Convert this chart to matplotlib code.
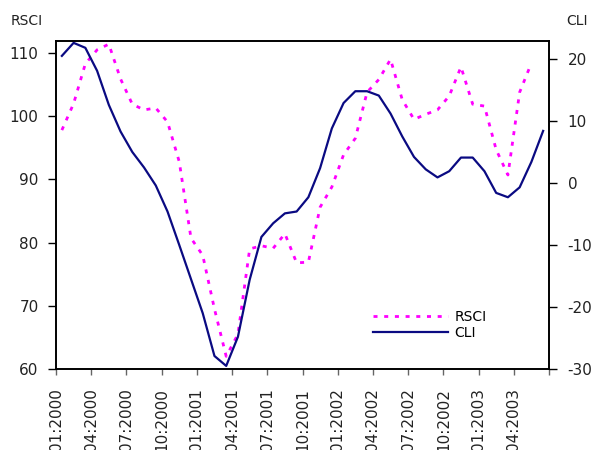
import numpy as np
import matplotlib
matplotlib.use("Agg")
import matplotlib.pyplot as plt
from matplotlib.lines import Line2D

plt.rcParams['font.family'] = ['DejaVu Sans']
plt.rcParams['axes.unicode_minus'] = False

# monthly data, Jan 2000 .. Jun 2003
rsci = [97.8, 102.0, 108.3, 110.5, 111.4, 105.9, 101.9, 101.0, 101.3, 99.1,
        92.8, 80.7, 78.0, 69.5, 62.0, 65.5, 79.0, 79.5, 79.1, 81.4,
        76.8, 76.9, 85.6, 88.8, 93.9, 96.5, 103.8, 105.8, 109.0, 102.6,
        99.5, 100.3, 101.0, 103.2, 107.8, 101.9, 101.6, 94.7, 90.7, 103.8,
        108.4, np.nan]
cli = [20.5, 22.6, 21.8, 18.1, 12.6, 8.3, 5.0, 2.5, -0.4, -4.6,
       -10.0, -15.5, -21.0, -27.9, -29.5, -24.8, -15.6, -8.7, -6.5, -4.9,
       -4.6, -2.3, 2.4, 8.8, 12.9, 14.8, 14.8, 14.1, 11.2, 7.5,
       4.2, 2.2, 0.9, 1.9, 4.1, 4.1, 1.9, -1.6, -2.3, -0.7,
       3.4, 8.4]
tick_labels = ["01:2000", "04:2000", "07:2000", "10:2000", "01:2001", "04:2001",
               "07:2001", "10:2001", "01:2002", "04:2002", "07:2002", "10:2002",
               "01:2003", "04:2003", ""]

months = np.arange(len(cli)) + 0.5

fig = plt.figure(figsize=(5.95, 4.5), dpi=100)
ax = fig.add_axes([56 / 595, 81 / 450, 493 / 595, 328 / 450])
ax2 = ax.twinx()

pink = "#FF00FF"
navy = "#0A0A82"
txt = "#222222"
pink_dash = (1.45, 2.4)

ax.plot(months, rsci, color=pink, lw=2.0, dashes=pink_dash)
ax2.plot(months, cli, color=navy, lw=1.6)

ax.set_xlim(0, 42)
ax.set_ylim(60, 111.9)
ax2.set_ylim(-30, 22.9)
ax.set_xticks(np.arange(0, 43, 3))
ax.set_xticklabels(tick_labels, rotation=90, fontsize=11, color=txt)
ax.set_yticks([60, 70, 80, 90, 100, 110])
ax2.set_yticks([-30, -20, -10, 0, 10, 20])

ax.tick_params(axis='y', direction='out', length=6, width=1, pad=6.5,
               labelsize=11, labelcolor=txt)
ax.tick_params(axis='x', direction='out', length=4, width=1, pad=10,
               color="#666666")
ax2.tick_params(axis='y', direction='out', length=6, width=1, pad=7.5,
                labelsize=11, labelcolor=txt)

for a in (ax, ax2):
    for s in a.spines.values():
        s.set_linewidth(1.2)

fig.text(11 / 595, 1 - 21 / 450, "RSCI", fontsize=10, va='center', color=txt)
fig.text(566 / 595, 1 - 21 / 450, "CLI", fontsize=10, va='center', color=txt)

handles = [Line2D([], [], color=pink, lw=2.0, dashes=pink_dash),
           Line2D([], [], color=navy, lw=1.6)]
ax.legend(handles, ["RSCI", "CLI"], loc='upper left',
          bbox_to_anchor=(0.643, 0.180), frameon=False, fontsize=10,
          borderpad=0, borderaxespad=0,
          handlelength=5.4, handletextpad=0.45, labelspacing=0.16)

fig.savefig("out.png", dpi=100)
